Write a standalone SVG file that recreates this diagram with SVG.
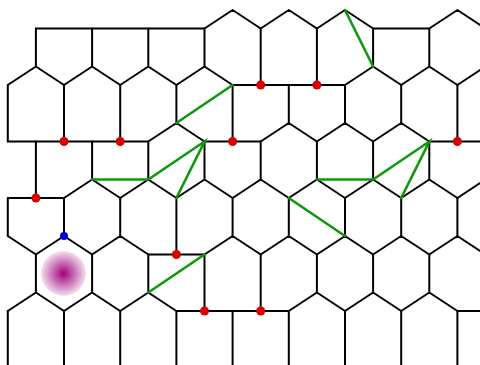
<svg xmlns="http://www.w3.org/2000/svg" width="480" height="365" viewBox="0 0 480 365">
<defs>
<radialGradient id="blob" cx="0.5" cy="0.5" r="0.5">
<stop offset="0" stop-color="#a0007a" stop-opacity="1"/>
<stop offset="1" stop-color="#a0007a" stop-opacity="0.12"/>
</radialGradient>
</defs>
<style>
.e{fill:none;stroke:#000;stroke-width:2;stroke-linejoin:round;stroke-linecap:round}
.g{fill:none;stroke:#0c9a0c;stroke-width:2.6;stroke-linecap:round}
.r{fill:#dd0000}
.b{fill:#0000dd}
</style>
<rect width="480" height="365" fill="#fff"/>
<g id="highlight">
<circle cx="63.5" cy="273.5" r="22.5" fill="url(#blob)"/>
</g>
<g id="edges" class="e">
<path d="M35.9,28.5 H204.5 L232.6,10 L260.7,28.5 L288.8,10 L316.9,28.5 L345,10 L373.1,28.5 H429.3 L457.4,10 L480,24.9"/>
<path d="M35.9,28.5 V66.5 M92.1,28.5 V66.5 M148.3,28.5 V66.5 M204.5,28.5 V66.5 M260.7,28.5 V85 M316.9,28.5 V85 M373.1,28.5 V66.5 M429.3,28.5 V66.5"/>
<path d="M7.8,85 L35.9,66.5 L64,85 L92.1,66.5 L120.2,85 L148.3,66.5 L176.4,85 L204.5,66.5 L232.6,85 H345 L373.1,66.5 L401.2,85 L429.3,66.5 L457.4,85 L480,70.1"/>
<path d="M7.8,85 V141.5 M64,85 V141.5 M120.2,85 V141.5 M176.4,85 V123 M232.6,85 V141.5 M288.8,85 V123 M345,85 V123 M401.2,85 V123 M457.4,85 V141.5"/>
<path d="M7.8,141.5 H148.3 L176.4,123 L204.5,141.5 H260.7 L288.8,123 L316.9,141.5 L345,123 L373.1,141.5 L401.2,123 L429.3,141.5 H480"/>
<path d="M35.9,141.5 V198 M92.1,141.5 V179.5 M148.3,141.5 V179.5 M204.5,141.5 V179.5 M260.7,141.5 V179.5 M316.9,141.5 V179.5 M373.1,141.5 V179.5 M429.3,141.5 V179.5"/>
<path d="M7.8,198 H64 L92.1,179.5 L120.2,198 L148.3,179.5 L176.4,198 L204.5,179.5 L232.6,198 L260.7,179.5 L288.8,198 L316.9,179.5 L345,198 L373.1,179.5 L401.2,198 L429.3,179.5 L457.4,198 L480,183.1"/>
<path d="M7.8,198 V236 M64,198 V236 M120.2,198 V236 M176.4,198 V254.5 M232.6,198 V236 M288.8,198 V236 M345,198 V236 M401.2,198 V236 M457.4,198 V236"/>
<path d="M7.8,236 L35.9,254.5 L64,236 L92.1,254.5 L120.2,236 L148.3,254.5 H204.5 L232.6,236 L260.7,254.5 L288.8,236 L316.9,254.5 L345,236 L373.1,254.5 L401.2,236 L429.3,254.5 L457.4,236 L480,250.9"/>
<path d="M35.9,254.5 V292.5 M92.1,254.5 V292.5 M148.3,254.5 V292.5 M204.5,254.5 V311 M260.7,254.5 V311 M316.9,254.5 V292.5 M373.1,254.5 V292.5 M429.3,254.5 V292.5"/>
<path d="M7.8,311 L35.9,292.5 L64,311 L92.1,292.5 L120.2,311 L148.3,292.5 L176.4,311 H288.8 L316.9,292.5 L345,311 L373.1,292.5 L401.2,311 L429.3,292.5 L457.4,311 H480"/>
<path d="M7.8,311 V366 M64,311 V366 M120.2,311 V366 M176.4,311 V366 M232.6,311 V366 M288.8,311 V366 M345,311 V366 M401.2,311 V366 M457.4,311 V366"/>
</g>
<g id="green-edges" class="g">
<path d="M345,10 L373.1,66.5"/>
<path d="M176.4,123 L232.6,85"/>
<path d="M92.1,179.5 H148.3 L204.5,141.5 L176.4,198"/>
<path d="M316.9,179.5 H373.1 L429.3,141.5 L401.2,198"/>
<path d="M288.8,198 L345,236"/>
<path d="M148.3,292.5 L204.5,254.5"/>
</g>
<g id="red-dots" class="r">
<circle cx="64" cy="141.5" r="4.5"/>
<circle cx="120.2" cy="141.5" r="4.5"/>
<circle cx="232.6" cy="141.5" r="4.5"/>
<circle cx="260.7" cy="85" r="4.5"/>
<circle cx="316.9" cy="85" r="4.5"/>
<circle cx="457.4" cy="141.5" r="4.5"/>
<circle cx="35.9" cy="198" r="4.5"/>
<circle cx="176.4" cy="254.5" r="4.5"/>
<circle cx="204.5" cy="311" r="4.5"/>
<circle cx="260.7" cy="311" r="4.5"/>
</g>
<g id="blue-dot" class="b">
<circle cx="64" cy="236" r="4"/>
</g>
</svg>
